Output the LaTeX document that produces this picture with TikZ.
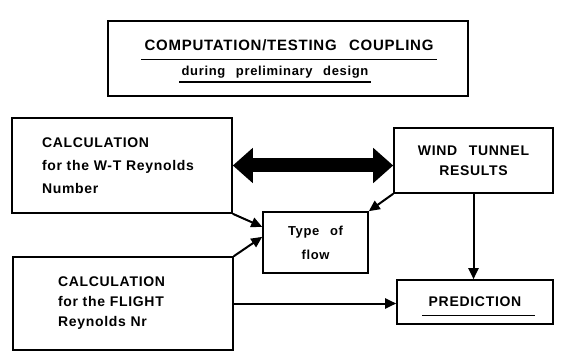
\documentclass[tikz,border=0pt]{standalone}
\usepackage{fontspec}
\setmainfont{Liberation Sans}[LetterSpace=5,WordSpace=2.5]
\usetikzlibrary{arrows.meta,calc}

\begin{document}
\begin{tikzpicture}[x=1pt,y=-1pt,
  box/.style={draw,line width=1.6pt,inner sep=0pt,
    font=\bfseries\fontsize{14}{20}\selectfont},
  lbl/.style={inner sep=0pt,anchor=base},
  arr/.style={line width=2pt,-{Triangle[length=11pt,width=10pt]}},
  twoway/.style={line width=14pt,
    {Triangle[length=20pt,width=34pt]}-{Triangle[length=20pt,width=34pt]}}]

\useasboundingbox[fill=white] (0,0) rectangle (564,352);

% heading block
\node[box,minimum width=360pt,minimum height=75pt] (title) at (288,58.5) {};
\node[lbl,font=\bfseries\fontsize{15}{18}\selectfont] (head) at (289,51)
  {COMPUTATION/TESTING COUPLING};
\node[lbl,font=\bfseries\fontsize{13}{16}\selectfont] (sub) at (275,76)
  {during preliminary design};
\draw[line width=1.6pt] ([xshift=-3pt]head.west |- 0,59.5) -- ([xshift=3pt]head.east |- 0,59.5);
\draw[line width=1.4pt] ([xshift=-2pt]sub.west |- 0,82) -- ([xshift=2pt]sub.east |- 0,82);

% boxes
\node[box,minimum width=220pt,minimum height=95pt,text width=160pt,align=left,
  font=\bfseries\fontsize{14}{23}\selectfont] (calcwt) at (122,165.5)
  {CALCULATION\\for the W-T Reynolds\\Number};
\node[box,minimum width=220pt,minimum height=93pt,text width=130pt,align=left]
  (calcfl) at (123,303.5)
  {CALCULATION\\for the FLIGHT\\Reynolds Nr};
\node[box,minimum width=159pt,minimum height=65pt,align=center] (wtr) at (473.5,160.5)
  {WIND TUNNEL\\RESULTS};
\node[box,minimum width=105pt,minimum height=61pt,align=center,
  font=\bfseries\fontsize{13}{24}\selectfont] (flow) at (315.5,242.5)
  {Type of\\flow};
\node[box,minimum width=156pt,minimum height=44pt] (pred) at (475,302)
  {PREDICTION};
\draw[line width=0.9pt] ($(pred.center)+(-53,13)$) -- ($(pred.center)+(60,13)$);

% connectors
\draw[twoway] (calcwt.east) -- (calcwt.east -| wtr.west);
\draw[arr] (calcwt.south east) -- ($(flow.north west)!0.25!(flow.south west)$);
\draw[arr] (calcfl.north east) -- ($(flow.north west)!0.41!(flow.south west)$);
\draw[arr] (wtr.south west) -- (flow.north east);
\draw[arr] (wtr.south) -- (wtr.south |- pred.north);
\draw[arr] (calcfl.east) -- (calcfl.east -| pred.west);
\end{tikzpicture}
\end{document}
